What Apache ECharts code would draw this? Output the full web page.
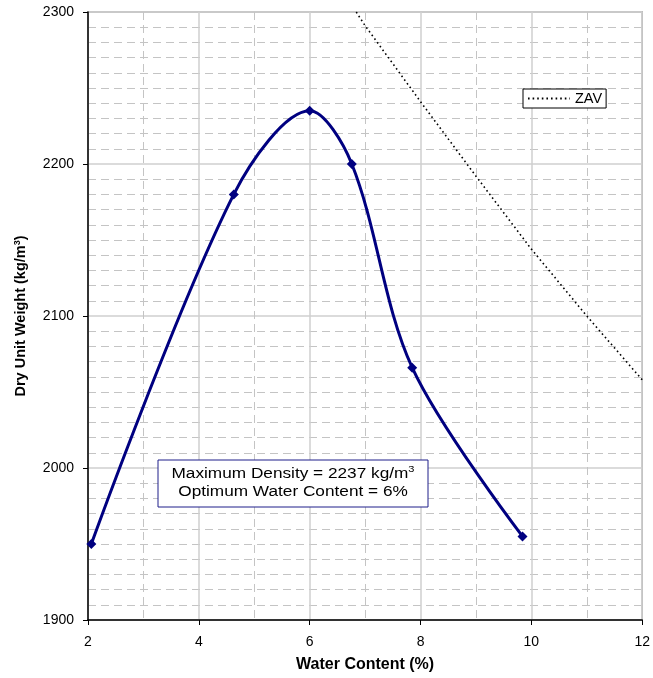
<!DOCTYPE html>
<html>
<head>
<meta charset="utf-8">
<script src="https://cdn.jsdelivr.net/npm/echarts@6/dist/echarts.min.js"></script>
<style>
html,body{margin:0;padding:0;background:#fff;}
#chart{width:653px;height:678px;}
</style>
</head>
<body>
<div id="chart"></div>
<script>
// Compaction test data
const waterContent = [2.06, 4.63, 6.0, 6.76, 7.85, 9.84];
const dryUnitWeight = [1950, 2180, 2235, 2200, 2066, 1955];

// Zero-air-voids line
const zavWater = [6.84, 7.0, 8.0, 9.0, 10.0, 11.0, 12.0];
const zavWeight = [2300, 2291, 2241, 2192, 2144, 2100, 2058];

const xTicks = [2, 4, 6, 8, 10, 12];
const yTicks = [1900, 2000, 2100, 2200, 2300];

const annotationLines = ['Maximum Density = 2237 kg/m', 'Optimum Water Content = 6%'];

const FONT = '"Liberation Sans", Arial, sans-serif';

const chart = echarts.init(document.getElementById('chart'), null, {renderer: 'canvas'});

const compactionData = waterContent.map((x, i) => [x, dryUnitWeight[i]]);
const zavData = zavWater.map((x, i) => [x, zavWeight[i]]);

chart.setOption({
  animation: false,
  backgroundColor: '#fff',
  grid: {
    left: 88, top: 12, right: 10, bottom: 55,
    show: true, borderColor: '#a0a0a0', borderWidth: 1.5, backgroundColor: 'transparent'
  },
  legend: {
    data: [{name: 'ZAV', itemStyle: {opacity: 0}}],
    left: 523, top: 89,
    orient: 'horizontal',
    padding: [2, 4, 2, 4],
    borderColor: '#000', borderWidth: 1,
    backgroundColor: '#fff',
    itemWidth: 42, itemHeight: 10,
    textStyle: {fontFamily: FONT, fontSize: 14.5, color: '#000'}
  },
  xAxis: {
    type: 'value',
    min: xTicks[0], max: xTicks[xTicks.length - 1], interval: 2,
    name: 'Water Content (%)',
    nameLocation: 'middle', nameGap: 37,
    nameTextStyle: {fontFamily: FONT, fontSize: 16, fontWeight: 'bold', color: '#000'},
    axisLine: {show: true, onZero: false, lineStyle: {color: '#000', width: 1.5}},
    axisTick: {show: true, length: 5, lineStyle: {color: '#000'}},
    axisLabel: {fontFamily: FONT, fontSize: 14, color: '#000', margin: 15, formatter: v => String(v)},
    splitLine: {show: true, lineStyle: {color: '#cfcfcf', width: 1.5}},
    minorTick: {show: false, splitNumber: 2},
    minorSplitLine: {show: true, lineStyle: {color: '#c4c4c4', width: 1, type: [8, 5]}}
  },
  yAxis: {
    type: 'value',
    min: yTicks[0], max: yTicks[yTicks.length - 1], interval: 100,
    name: 'Dry Unit Weight (kg/m{sup|3})',
    nameLocation: 'middle', nameGap: 60, nameRotate: 90,
    nameTextStyle: {
      fontFamily: FONT, fontSize: 14.5, fontWeight: 'bold', color: '#000',
      rich: {sup: {fontFamily: FONT, fontSize: 9, fontWeight: 'bold', color: '#000', verticalAlign: 'top'}}
    },
    axisLine: {show: true, onZero: false, lineStyle: {color: '#000', width: 1.5}},
    axisTick: {show: true, length: 5, lineStyle: {color: '#000'}},
    axisLabel: {fontFamily: FONT, fontSize: 14, color: '#000', margin: 14, formatter: v => String(v)},
    splitLine: {show: true, lineStyle: {color: '#cfcfcf', width: 1.5}},
    minorTick: {show: false, splitNumber: 10},
    minorSplitLine: {show: true, lineStyle: {color: '#c4c4c4', width: 1, type: [8, 5]}}
  },
  series: [
    {
      name: 'Compaction',
      type: 'line',
      data: compactionData,
      smooth: 0.33,
      symbol: 'diamond',
      symbolSize: 10,
      itemStyle: {color: '#000080'},
      lineStyle: {color: '#000080', width: 3},
      z: 5
    },
    {
      name: 'ZAV',
      type: 'line',
      data: zavData,
      smooth: false,
      symbol: 'none',
      showSymbol: false,
      lineStyle: {color: '#000', width: 1.6, type: [1.6, 3]},
      itemStyle: {color: '#000'},
      z: 4
    }
  ],
  graphic: [
    {
      type: 'group',
      children: [
        {
          type: 'rect',
          shape: {x: 158, y: 460, width: 270, height: 47},
          style: {fill: '#fff', stroke: '#1f1f8a', lineWidth: 1},
          z: 10
        },
        {
          type: 'text',
          x: 293, y: 483.5,
          scaleX: 1.23, scaleY: 1,
          style: {
            text: annotationLines[0] + '{sup|3}\n' + annotationLines[1],
            fontFamily: FONT, fontSize: 14, fill: '#000',
            align: 'center', verticalAlign: 'middle', lineHeight: 18,
            rich: {sup: {fontFamily: FONT, fontSize: 9, fill: '#000', verticalAlign: 'top', lineHeight: 18}}
          },
          z: 11
        }
      ]
    }
  ]
});
</script>
</body>
</html>
